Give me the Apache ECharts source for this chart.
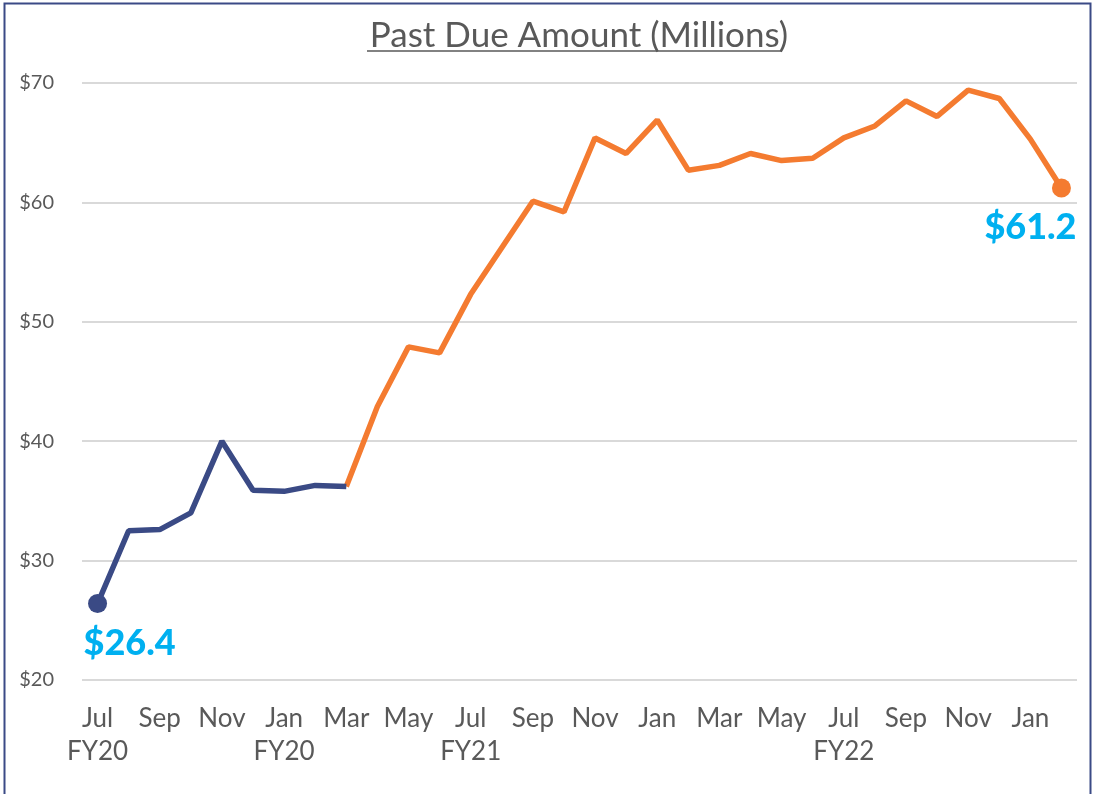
<!DOCTYPE html>
<html><head><meta charset="utf-8">
<script src="https://cdn.jsdelivr.net/npm/echarts@6/dist/echarts.min.js"></script>
<style>html,body{margin:0;padding:0;background:#fff}#c{width:1094px;height:794px}</style>
</head><body><div id="c"></div>
<script>
const months = ['Jul','Aug','Sep','Oct','Nov','Dec','Jan','Feb','Mar','Apr','May','Jun',
  'Jul','Aug','Sep','Oct','Nov','Dec','Jan','Feb','Mar','Apr','May','Jun',
  'Jul','Aug','Sep','Oct','Nov','Dec','Jan','Feb'];
const fyTags = {0:'FY20', 6:'FY20', 12:'FY21', 24:'FY22'};
const values = [26.4,32.5,32.6,34.0,40.0,35.9,35.8,36.3,36.2,42.9,47.9,47.4,
  52.3,56.2,60.1,59.2,65.4,64.1,66.9,62.7,63.1,64.1,63.5,63.7,
  65.4,66.4,68.5,67.2,69.4,68.7,65.3,61.2];
const splitIndex = 8;
const yTicks = {min:20, max:70, interval:10};

const categories = months.map((m,i)=> fyTags[i] ? m + '\n' + fyTags[i] : m);
const navy = values.map((v,i)=> i<=splitIndex ? v : null);
const orange = values.map((v,i)=> i>=splitIndex ? v : null);
const last = values.length-1;
const font = 'Lato, "Open Sans", sans-serif';

const chart = echarts.init(document.getElementById('c'));
chart.setOption({
  animation:false,
  title:{text:'Past Due Amount (Millions)', left:574, textAlign:'center', top:13,
    textStyle:{fontFamily:font, fontSize:35, fontWeight:'normal', color:'#595959'}},
  graphic:[
    {type:'line', shape:{x1:367,y1:51,x2:782,y2:51}, style:{stroke:'#595959', lineWidth:1.5}},
    {type:'rect', shape:{x:4.5,y:3.5,width:1086,height:800}, style:{fill:null, stroke:'#3b4a86', lineWidth:2}}
  ],
  grid:{left:82, right:17, top:83, bottom:114},
  xAxis:{type:'category', data:categories, boundaryGap:true,
    axisLine:{show:false}, axisTick:{show:false},
    axisLabel:{interval:1, color:'#595959', fontFamily:font, fontSize:26, lineHeight:33, margin:22}},
  yAxis:{type:'value', min:yTicks.min, max:yTicks.max, interval:yTicks.interval,
    axisLine:{show:false}, axisTick:{show:false},
    axisLabel:{formatter:'${value}', color:'#595959', fontFamily:font, fontSize:20, margin:28},
    splitLine:{lineStyle:{color:'#d9d9d9', width:2}}},
  series:[
    {type:'line', data:navy, connectNulls:false, lineStyle:{color:'#3a4a85', width:5.5},
     itemStyle:{color:'#3a4a85'}, symbol:'circle', symbolSize:(v,p)=> p.dataIndex===0?19:0,
     showSymbol:true,
     label:{show:true, position:'bottom', distance:12, formatter:p=> p.dataIndex===0 ? '$'+p.value.toFixed(1) : '',
       color:'#00b0f0', fontFamily:font, fontWeight:900, fontSize:36, offset:[32,0]},
     z:3},
    {type:'line', data:orange, lineStyle:{color:'#f47b30', width:5.5},
     itemStyle:{color:'#f47b30'}, symbol:'circle', symbolSize:(v,p)=> p.dataIndex===last?19:0,
     showSymbol:true,
     label:{show:true, position:'bottom', distance:12, formatter:p=> p.dataIndex===last ? '$'+p.value.toFixed(1) : '',
       color:'#00b0f0', fontFamily:font, fontWeight:900, fontSize:36, offset:[-31,0]},
     z:2}
  ]
});
</script></body></html>
